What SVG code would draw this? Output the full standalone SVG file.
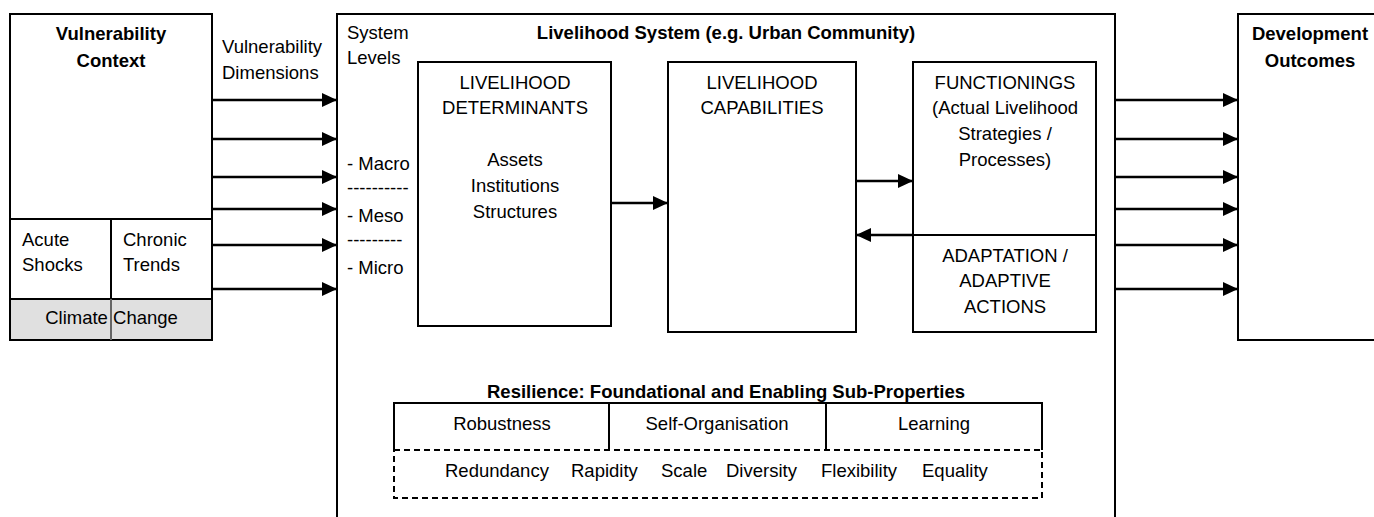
<svg xmlns="http://www.w3.org/2000/svg" width="1374" height="517" viewBox="0 0 1374 517">
<style>
  .box{fill:#fff;stroke:#000;stroke-width:2}
  .ln{fill:none;stroke:#000;stroke-width:2}
  .dash{fill:none;stroke:#000;stroke-width:2;stroke-dasharray:6 4}
  .arr{fill:none;stroke:#000;stroke-width:2.5;marker-end:url(#ah)}
  text{font-family:"Liberation Sans",Arial,sans-serif;font-size:18.5px;fill:#000}
  .b{font-weight:bold}
  .c{text-anchor:middle}
</style>
<defs>
  <marker id="ah" markerUnits="userSpaceOnUse" markerWidth="16" markerHeight="16" refX="15" refY="7" orient="auto">
    <path d="M0,0 L15,7 L0,14 Z" fill="#000"/>
  </marker>
</defs>
<rect width="1374" height="517" fill="#fff"/>

<g id="vulnerability-context">
  <rect class="box" x="10" y="14" width="202" height="326"/>
  <rect x="10" y="299" width="202" height="41" fill="#e0e0e0" stroke="#000" stroke-width="2"/>
  <line class="ln" x1="10" y1="219" x2="212" y2="219"/>
  <line class="ln" x1="111" y1="219" x2="111" y2="299"/>
  <line x1="111" y1="299" x2="111" y2="340" stroke="#666" stroke-width="2"/>
  <text class="b c" x="111" y="39.5">Vulnerability</text>
  <text class="b c" x="111" y="66.5">Context</text>
  <text x="22" y="245.5">Acute</text>
  <text x="22" y="270.5">Shocks</text>
  <text x="123" y="245.5">Chronic</text>
  <text x="123" y="270.5">Trends</text>
  <text class="c" x="111.5" y="324">Climate Change</text>
</g>

<g id="vulnerability-dimensions-label">
  <text x="222" y="52.5">Vulnerability</text>
  <text x="222" y="79">Dimensions</text>
</g>

<g id="livelihood-system">
  <path class="ln" d="M337,520 V14 H1115 V520"/>
  <text class="b c" x="726" y="38.5">Livelihood System (e.g. Urban Community)</text>
  <text x="347" y="38.5">System</text>
  <text x="347" y="63.5">Levels</text>
  <text x="347" y="169.5">- Macro</text>
  <text x="347" y="194">----------</text>
  <text x="347" y="221.5">- Meso</text>
  <text x="347" y="246">---------</text>
  <text x="347" y="273.5">- Micro</text>
</g>

<g id="livelihood-determinants">
  <rect class="box" x="418" y="62" width="193" height="264"/>
  <text class="c" x="515" y="88.5">LIVELIHOOD</text>
  <text class="c" x="515" y="113.5">DETERMINANTS</text>
  <text class="c" x="515" y="165.5">Assets</text>
  <text class="c" x="515" y="191.5">Institutions</text>
  <text class="c" x="515" y="217.5">Structures</text>
</g>

<g id="livelihood-capabilities">
  <rect class="box" x="668" y="62" width="188" height="270"/>
  <text class="c" x="762" y="88.5">LIVELIHOOD</text>
  <text class="c" x="762" y="113.5">CAPABILITIES</text>
</g>

<g id="functionings">
  <rect class="box" x="913" y="62" width="183" height="270"/>
  <line class="ln" x1="913" y1="235" x2="1096" y2="235"/>
  <text class="c" x="1005" y="88.5">FUNCTIONINGS</text>
  <text class="c" x="1005" y="113.5">(Actual Livelihood</text>
  <text class="c" x="1005" y="139.5">Strategies /</text>
  <text class="c" x="1005" y="165.5">Processes)</text>
  <text class="c" x="1005" y="261.5">ADAPTATION /</text>
  <text class="c" x="1005" y="286.5">ADAPTIVE</text>
  <text class="c" x="1005" y="312.5">ACTIONS</text>
</g>

<g id="development-outcomes">
  <rect class="box" x="1238" y="14" width="150" height="326"/>
  <text class="b c" x="1310" y="39.5">Development</text>
  <text class="b c" x="1310" y="66.5">Outcomes</text>
</g>

<g id="resilience">
  <text class="b c" x="726" y="398">Resilience: Foundational and Enabling Sub-Properties</text>
  <path class="ln" d="M394,450 V403 H1042 V450"/>
  <line class="ln" x1="609" y1="403" x2="609" y2="450"/>
  <line class="ln" x1="826" y1="403" x2="826" y2="450"/>
  <rect class="dash" x="394" y="450" width="648" height="48"/>
  <text class="c" x="502" y="430">Robustness</text>
  <text class="c" x="717" y="430">Self-Organisation</text>
  <text class="c" x="934" y="430">Learning</text>
  <text y="477"><tspan x="445">Redundancy</tspan><tspan x="571">Rapidity</tspan><tspan x="661">Scale</tspan><tspan x="726">Diversity</tspan><tspan x="821">Flexibility</tspan><tspan x="922">Equality</tspan></text>
</g>

<g id="connectors">
  <line class="arr" x1="212" y1="100" x2="337" y2="100"/>
  <line class="arr" x1="212" y1="139" x2="337" y2="139"/>
  <line class="arr" x1="212" y1="177" x2="337" y2="177"/>
  <line class="arr" x1="212" y1="209" x2="337" y2="209"/>
  <line class="arr" x1="212" y1="245" x2="337" y2="245"/>
  <line class="arr" x1="212" y1="289" x2="337" y2="289"/>
  <line class="arr" x1="611" y1="203" x2="668" y2="203"/>
  <line class="arr" x1="856" y1="181" x2="913" y2="181"/>
  <line class="arr" x1="913" y1="235" x2="856" y2="235"/>
  <line class="arr" x1="1115" y1="100" x2="1238" y2="100"/>
  <line class="arr" x1="1115" y1="139" x2="1238" y2="139"/>
  <line class="arr" x1="1115" y1="177" x2="1238" y2="177"/>
  <line class="arr" x1="1115" y1="209" x2="1238" y2="209"/>
  <line class="arr" x1="1115" y1="245" x2="1238" y2="245"/>
  <line class="arr" x1="1115" y1="289" x2="1238" y2="289"/>
</g>
</svg>
